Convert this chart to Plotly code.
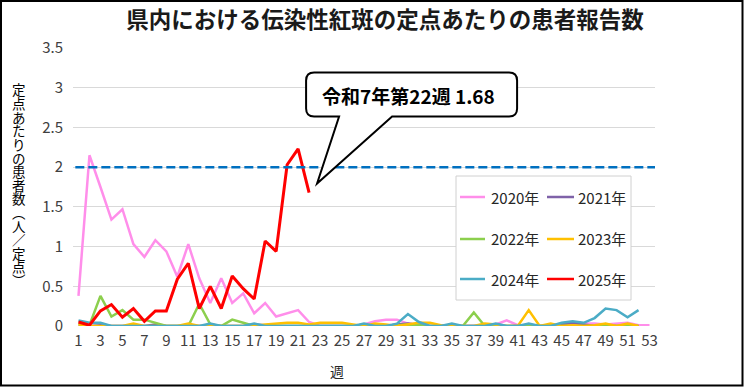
import plotly.graph_objects as go

weeks = list(range(1, 54))
years = ["2020年", "2021年", "2022年", "2023年", "2024年", "2025年"]
colors = ["#FF8EEA", "#7F62A8", "#8CCF4D", "#FFC000", "#4BACC6", "#FF0000"]

v2020 = [0.38, 2.15, 1.75, 1.34, 1.47, 1.03, 0.87, 1.08, 0.94, 0.62, 1.03, 0.60, 0.29,
         0.60, 0.29, 0.41, 0.16, 0.29, 0.12, 0.16, 0.20, 0.05, 0.00, 0.00, 0.00, 0.00,
         0.02, 0.06, 0.08, 0.08, 0.03, 0.02, 0.00, 0.00, 0.00, 0.00, 0.00, 0.00, 0.02,
         0.07, 0.01, 0.00, 0.00, 0.00, 0.02, 0.03, 0.03, 0.03, 0.02, 0.03, 0.04, 0.01, 0.01]
v2021 = [0.00, 0.00, 0.01, 0.00, 0.00, 0.00, 0.00, 0.02, 0.00, 0.00, 0.00, 0.00, 0.00,
         0.00, 0.00, 0.00, 0.02, 0.01, 0.00, 0.00, 0.00, 0.00, 0.00, 0.00, 0.00, 0.00,
         0.00, 0.00, 0.00, 0.02, 0.03, 0.01, 0.00, 0.00, 0.00, 0.00, 0.00, 0.00, 0.00,
         0.00, 0.00, 0.00, 0.00, 0.00, 0.02, 0.04, 0.02, 0.00, 0.00, 0.00, 0.00, 0.00]
v2022 = [0.03, 0.01, 0.38, 0.12, 0.20, 0.08, 0.08, 0.04, 0.00, 0.00, 0.00, 0.28, 0.02,
         0.00, 0.08, 0.04, 0.00, 0.00, 0.00, 0.00, 0.00, 0.00, 0.00, 0.00, 0.00, 0.00,
         0.00, 0.00, 0.00, 0.01, 0.02, 0.01, 0.00, 0.00, 0.00, 0.00, 0.17, 0.00, 0.00,
         0.00, 0.00, 0.01, 0.00, 0.00, 0.00, 0.00, 0.00, 0.00, 0.01, 0.00, 0.01, 0.00]
v2023 = [0.02, 0.00, 0.00, 0.00, 0.00, 0.03, 0.00, 0.00, 0.00, 0.00, 0.03, 0.00, 0.00,
         0.00, 0.00, 0.00, 0.00, 0.02, 0.03, 0.04, 0.04, 0.02, 0.04, 0.04, 0.04, 0.02,
         0.00, 0.03, 0.02, 0.00, 0.02, 0.04, 0.04, 0.01, 0.00, 0.00, 0.00, 0.03, 0.02,
         0.00, 0.00, 0.20, 0.00, 0.03, 0.00, 0.01, 0.00, 0.01, 0.03, 0.00, 0.03, 0.00]
v2024 = [0.07, 0.04, 0.04, 0.00, 0.00, 0.00, 0.00, 0.00, 0.00, 0.00, 0.00, 0.00, 0.03,
         0.00, 0.00, 0.00, 0.03, 0.00, 0.00, 0.00, 0.00, 0.00, 0.00, 0.00, 0.00, 0.00,
         0.03, 0.00, 0.00, 0.03, 0.15, 0.05, 0.00, 0.00, 0.03, 0.00, 0.00, 0.00, 0.03,
         0.00, 0.00, 0.03, 0.00, 0.00, 0.04, 0.06, 0.04, 0.10, 0.22, 0.20, 0.11, 0.20]
v2025 = [0.05, 0.01, 0.19, 0.27, 0.11, 0.22, 0.06, 0.19, 0.19, 0.59, 0.79, 0.22, 0.50,
         0.22, 0.63, 0.47, 0.34, 1.07, 0.94, 2.03, 2.23, 1.68]

threshold = 2.0
callout_text = "令和7年第22週 1.68"
title_text = "県内における伝染性紅斑の定点あたりの患者報告数"
ytitle_text = "定点あたりの患者数︵人／定点︶"
xtitle_text = "週"

series = [v2020, v2021, v2022, v2023, v2024, v2025]
widths = [2.5, 2.5, 2.5, 2.5, 2.5, 3]
FONT = "Noto Sans CJK JP, Noto Sans, sans-serif"

W, H = 744, 387
L, R, T, B = 73, 89, 48, 61
PW, PH = W - L - R, H - T - B


def px(x):
    return (x - L) / PW


def py(y):
    return (H - B - y) / PH


fig = go.Figure()
for name, vals, c, w in zip(years, series, colors, widths):
    fig.add_trace(go.Scatter(x=weeks[:len(vals)], y=vals, mode="lines", name=name,
                             line=dict(color=c, width=w), showlegend=False))

shapes = []
annotations = []

# threshold dashed line
shapes.append(dict(type="line", xref="paper", yref="y", x0=0.004, x1=1.0,
                   y0=threshold, y1=threshold,
                   line=dict(color="#0070C0", width=2.5, dash="9px,4px")))

# callout anchored at last 2025 point
ax_week = len(v2025)
ax_val = v2025[-1]
r = 8
path = (f"M 30,76 L {-3 + r},76 Q -3,76 -3,{76 + r} L -3,{120 - r} Q -3,120 {-3 + r},120 "
        f"L {208 - r},120 Q 208,120 208,{120 - r} L 208,{76 + r} Q 208,76 {208 - r},76 "
        f"L 83,76 L 8,9 Z")
shapes.append(dict(type="path", xsizemode="pixel", ysizemode="pixel", xref="x", yref="y",
                   xanchor=ax_week, yanchor=ax_val, path=path,
                   line=dict(color="black", width=2), fillcolor="white"))
annotations.append(dict(xref="x", yref="y", x=ax_week, y=ax_val, xshift=99, yshift=97,
                        text=callout_text, showarrow=False,
                        font=dict(family=FONT, size=19, color="black", weight="bold"),
                        xanchor="center", yanchor="middle"))

# legend box
shapes.append(dict(type="rect", xref="paper", yref="paper",
                   x0=px(456), x1=px(631), y0=py(176), y1=py(300),
                   line=dict(color="#D0D0D0", width=1), fillcolor="white"))
col_line_x = [(460, 485), (547, 574)]
col_text_x = [489, 576]
row_y = [197, 239, 279]
for i, (name, c) in enumerate(zip(years, colors)):
    row, col = divmod(i, 2)
    x0, x1 = col_line_x[col]
    yy = row_y[row]
    shapes.append(dict(type="line", xref="paper", yref="paper",
                       x0=px(x0), x1=px(x1), y0=py(yy), y1=py(yy),
                       line=dict(color=c, width=2.5)))
    annotations.append(dict(xref="paper", yref="paper", x=px(col_text_x[col]), y=py(yy),
                            text=name, showarrow=False, xanchor="left", yanchor="middle",
                            font=dict(family=FONT, size=15, color="#262626")))

# vertical y-axis title (stacked characters)
pitch = 13.6
y_start = 89.5
for k, ch in enumerate(ytitle_text):
    annotations.append(dict(xref="paper", yref="paper", x=px(19.5), y=py(y_start + k * pitch),
                            text=ch, showarrow=False, xanchor="center", yanchor="middle",
                            font=dict(family=FONT, size=13.5, color="#000000")))

# x-axis title
annotations.append(dict(xref="paper", yref="paper", x=px(337), y=py(371), text=xtitle_text,
                        showarrow=False, xanchor="center", yanchor="middle",
                        font=dict(family=FONT, size=14, color="#262626")))

# outer border
shapes.append(dict(type="rect", xref="paper", yref="paper",
                   x0=px(1), x1=px(742.5), y0=py(1), y1=py(385.5),
                   line=dict(color="black", width=2), fillcolor="rgba(0,0,0,0)"))

fig.update_layout(
    width=W, height=H,
    margin=dict(l=L, r=R, t=T, b=B),
    paper_bgcolor="white", plot_bgcolor="white",
    title=dict(text=title_text, x=385 / W, y=1 - 20 / H, xanchor="center", yanchor="middle",
               xref="container", yref="container",
               font=dict(family=FONT, size=22.5, color="#1a1a1a", weight="bold")),
    xaxis=dict(range=[0.5, 53.5], tickmode="linear", tick0=1, dtick=2,
               showgrid=False, zeroline=False, showline=False,
               tickfont=dict(family=FONT, size=15, color="#404040"),
               ticklabelstandoff=4),
    yaxis=dict(range=[0, 3.5], tickmode="linear", tick0=0, dtick=0.5,
               showgrid=True, gridcolor="#D9D9D9", gridwidth=1, zeroline=False,
               showline=False,
               tickfont=dict(family=FONT, size=15, color="#404040"),
               ticklabelstandoff=9),
    shapes=shapes,
    annotations=annotations,
    showlegend=False,
)

fig.write_html("out.html", config={"displayModeBar": False})

with open("out.html", encoding="utf-8") as f:
    html = f.read()
html = html.replace("<head>", "<head><style>html,body{margin:0;padding:0;overflow:hidden;}</style>", 1)
with open("out.html", "w", encoding="utf-8") as f:
    f.write(html)
